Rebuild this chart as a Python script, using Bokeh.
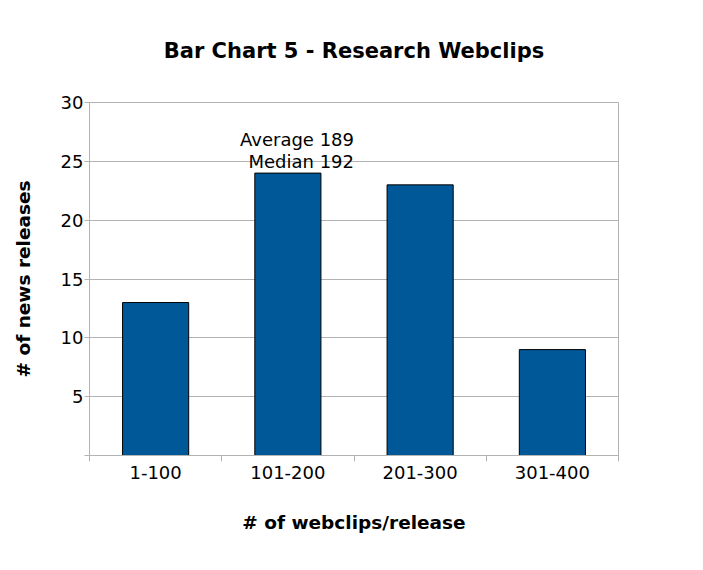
from bokeh.plotting import figure
from bokeh.models import FixedTicker, Label, Range1d, ColumnDataSource
from bokeh.embed import file_html
from bokeh.resources import INLINE

categories = ["1-100", "101-200", "201-300", "301-400"]
counts = [13, 24, 23, 9]
y_ticks = [0, 5, 10, 15, 20, 25, 30]
annotation = "Average 189\nMedian 192"
title_text = "Bar Chart 5 - Research Webclips"

FONT = "DejaVu Sans"
GRID = "#b3b3b3"

positions = [i + 0.5 for i in range(len(categories))]
src = ColumnDataSource(dict(x=positions, top=counts, cat=categories))

p = figure(width=703, height=570, output_backend="svg", toolbar_location=None,
           x_range=Range1d(0, len(categories)), y_range=Range1d(0, 30),
           min_border_left=89, min_border_right=85, min_border_top=82, min_border_bottom=115,
           title=title_text)

p.vbar(x="x", top="top", width=0.5, source=src, fill_color="#005899",
       line_color="#000000", line_width=1)

p.title.align = "center"
p.title.vertical_align = "top"
p.title.text_font = FONT
p.title.text_font_size = "21px"
p.title.text_font_style = "bold"
p.title.text_color = "#000000"
p.title.offset = 0
p.title.standoff = 10
p.title.padding = 33

p.outline_line_color = GRID
p.background_fill_color = "white"
p.border_fill_color = "white"

# x axis
xa = p.xaxis[0]
xa.ticker = FixedTicker(ticks=positions, minor_ticks=list(range(len(categories) + 1)))
xa.major_label_overrides = {pos: c for pos, c in zip(positions, categories)}
xa.major_tick_out = 0
xa.major_tick_in = 0
xa.minor_tick_out = 6
xa.minor_tick_in = 0
xa.minor_tick_line_color = GRID
xa.axis_line_color = GRID
xa.major_label_text_font = FONT
xa.major_label_text_font_size = "18px"
xa.major_label_text_color = "#000000"
xa.major_label_standoff = 4
xa.axis_label = "# of webclips/release"
xa.axis_label_text_font = FONT
xa.axis_label_text_font_size = "18.5px"
xa.axis_label_text_font_style = "bold"
xa.axis_label_text_color = "#000000"
xa.axis_label_standoff = 30
p.xgrid.visible = False

# y axis
ya = p.yaxis[0]
ya.ticker = FixedTicker(ticks=y_ticks)
ya.major_label_overrides = {0: ""}
ya.major_tick_out = 5
ya.major_tick_in = 0
ya.minor_tick_out = 0
ya.minor_tick_in = 0
ya.major_tick_line_color = GRID
ya.axis_line_color = GRID
ya.major_label_text_font = FONT
ya.major_label_text_font_size = "18px"
ya.major_label_text_color = "#000000"
ya.major_label_standoff = 1
ya.axis_label = "# of news releases"
ya.axis_label_text_font = FONT
ya.axis_label_text_font_size = "18.5px"
ya.axis_label_text_font_style = "bold"
ya.axis_label_text_color = "#000000"
ya.axis_label_standoff = 24
p.ygrid.grid_line_color = GRID
p.ygrid.grid_line_width = 1

lab = Label(x=positions[1] + 0.5, y=counts[1], text=annotation, text_align="right",
            text_baseline="bottom", text_font=FONT, text_font_size="18px",
            text_line_height=1.05, text_color="#000000", y_offset=1)
p.add_layout(lab)

open("out.html", "w").write(file_html(p, INLINE))
